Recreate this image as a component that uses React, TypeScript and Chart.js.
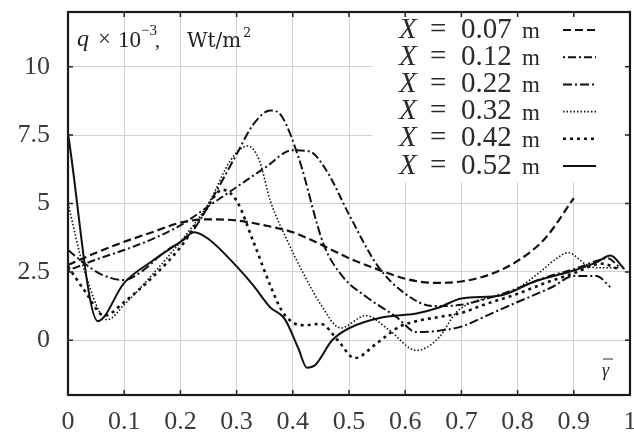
import React, { useEffect, useRef } from 'react';
import { Chart, registerables } from 'chart.js';
Chart.register(...registerables);

// ---- data ----
const seriesNames = ['0.07', '0.12', '0.22', '0.32', '0.42', '0.52'];

const s007: number[][] = [
  [0, 2.75], [0.05, 3.2], [0.1, 3.6], [0.15, 3.95], [0.2, 4.3], [0.25, 4.42], [0.3, 4.38], [0.35, 4.2],
  [0.4, 3.95], [0.45, 3.5], [0.5, 3.0], [0.55, 2.6], [0.6, 2.25], [0.65, 2.1], [0.7, 2.15], [0.75, 2.4],
  [0.8, 2.9], [0.85, 3.75], [0.9, 5.2],
];
const s012: number[][] = [
  [0, 2.55], [0.05, 2.95], [0.1, 3.3], [0.15, 3.7], [0.2, 4.2], [0.25, 4.9], [0.3, 5.6], [0.35, 6.3],
  [0.4, 6.95], [0.43, 6.9], [0.46, 6.2], [0.5, 4.6], [0.55, 2.75], [0.6, 1.7], [0.65, 1.25], [0.7, 1.3],
  [0.75, 1.55], [0.8, 1.9], [0.85, 2.3], [0.9, 2.6], [0.94, 2.9], [0.96, 3.0], [0.98, 2.7],
];
const s022: number[][] = [
  [0, 3.3], [0.03, 2.8], [0.06, 2.4], [0.1, 2.2], [0.13, 2.5], [0.17, 3.2], [0.22, 3.95], [0.26, 5.3],
  [0.3, 6.8], [0.33, 7.9], [0.36, 8.4], [0.38, 8.2], [0.41, 6.7], [0.455, 3.5], [0.49, 2.3], [0.53, 1.6],
  [0.585, 0.84], [0.62, 0.3], [0.66, 0.35], [0.7, 0.5], [0.75, 0.95], [0.8, 1.4], [0.86, 1.93], [0.9, 2.35],
  [0.94, 2.35], [0.965, 1.95],
];
const s032: number[][] = [
  [0, 5.0], [0.03, 2.5], [0.07, 0.75], [0.1, 1.3], [0.15, 2.4], [0.2, 3.6], [0.25, 5.0], [0.29, 6.6],
  [0.32, 7.1], [0.34, 6.6], [0.36, 5.1], [0.39, 3.65], [0.42, 2.4], [0.45, 1.3], [0.485, 0.45], [0.53, 0.9],
  [0.57, 0.4], [0.62, -0.37], [0.66, 0.1], [0.69, 1.0], [0.72, 1.4], [0.76, 1.6], [0.8, 1.9], [0.84, 2.5],
  [0.87, 3.0], [0.89, 3.2], [0.92, 2.8], [0.94, 2.65], [0.98, 2.65],
];
const s042: number[][] = [
  [0, 2.7], [0.03, 1.8], [0.065, 0.9], [0.1, 1.4], [0.15, 2.3], [0.2, 3.4], [0.24, 4.6], [0.275, 5.5],
  [0.3, 5.1], [0.33, 3.6], [0.36, 2.0], [0.38, 1.1], [0.4, 0.65], [0.42, 0.55], [0.45, 0.6], [0.48, 0.0],
  [0.51, -0.65], [0.55, -0.1], [0.59, 0.5], [0.62, 0.7], [0.66, 0.85], [0.7, 1.0], [0.74, 1.3], [0.8, 1.7],
  [0.85, 2.1], [0.9, 2.45], [0.95, 2.8], [0.98, 2.6],
];
const s052: number[][] = [
  [0, 7.55], [0.053, 0.7], [0.1, 2.1], [0.15, 2.9], [0.2, 3.6], [0.225, 3.95], [0.25, 3.7], [0.3, 2.7],
  [0.33, 2.0], [0.36, 1.2], [0.385, 0.8], [0.41, -0.3], [0.425, -1.0], [0.44, -0.9], [0.47, 0.0], [0.5, 0.44],
  [0.56, 0.84], [0.62, 0.98], [0.66, 1.2], [0.7, 1.53], [0.77, 1.64], [0.83, 2.15], [0.9, 2.55], [0.94, 2.85],
  [0.965, 3.1], [0.99, 2.6],
];
const seriesData = [s007, s012, s022, s032, s042, s052];

const xTickValues = [0, 0.1, 0.2, 0.3, 0.4, 0.5, 0.6, 0.7, 0.8, 0.9, 1];
const xTickLabels = ['0', '0.1', '0.2', '0.3', '0.4', '0.5', '0.6', '0.7', '0.8', '0.9', '1'];
const yTickValues = [0, 2.5, 5, 7.5, 10];
const yTickLabels = ['0', '2.5', '5', '7.5', '10'];

// ---- styles ----
const dashes: number[][] = [[8, 4], [2, 3, 8, 3], [9, 3, 2, 3], [1.5, 2], [3, 4], []];
const widths = [2.2, 2, 2, 1.6, 2.6, 2];
const SERIF = '"Liberation Serif", "DejaVu Serif", serif';
const DSERIF = '"DejaVu Serif", serif';

const decor = {
  id: 'decor',
  beforeDatasetsDraw(chart: any) {
    const ctx = chart.ctx;
    ctx.save();
    ctx.fillStyle = '#fff';
    ctx.fillRect(372, 14, 256, 168);
    ctx.restore();
  },
  afterDatasetsDraw(chart: any) {
    const ctx = chart.ctx;
    const a = chart.chartArea;
    const xs = chart.scales.x;
    const ys = chart.scales.y;
    ctx.save();
    // inward tick marks
    ctx.strokeStyle = '#222';
    ctx.lineWidth = 1.5;
    ctx.setLineDash([]);
    ctx.beginPath();
    xTickValues.forEach((v) => {
      const px = xs.getPixelForValue(v);
      ctx.moveTo(px, a.top); ctx.lineTo(px, a.top + 5);
      ctx.moveTo(px, a.bottom); ctx.lineTo(px, a.bottom - 5);
    });
    yTickValues.forEach((v) => {
      const py = ys.getPixelForValue(v);
      ctx.moveTo(a.left, py); ctx.lineTo(a.left + 5, py);
      ctx.moveTo(a.right, py); ctx.lineTo(a.right - 5, py);
    });
    ctx.stroke();
    // frame
    ctx.strokeStyle = '#1a1a1a';
    ctx.lineWidth = 2.2;
    ctx.strokeRect(a.left, a.top, a.right - a.left, a.bottom - a.top);

    // legend
    ctx.fillStyle = '#2a2a2a';
    ctx.textBaseline = 'middle';
    ctx.textAlign = 'left';
    seriesNames.forEach((n, i) => {
      const y = 30 + i * 27.2;
      ctx.font = 'italic 29px ' + SERIF;
      ctx.fillText('X', 399, y);
      ctx.font = '29px ' + SERIF;
      ctx.fillText('=', 430, y);
      ctx.fillText(n, 461, y);
      ctx.font = '23px ' + SERIF;
      ctx.fillText('m', 522, y + 2);
      const ds = chart.data.datasets[i];
      ctx.strokeStyle = '#111';
      ctx.lineWidth = ds.borderWidth;
      ctx.setLineDash(ds.borderDash || []);
      ctx.beginPath();
      ctx.moveTo(563, y);
      ctx.lineTo(596, y);
      ctx.stroke();
    });
    ctx.setLineDash([]);

    // axis label q
    ctx.textBaseline = 'alphabetic';
    ctx.fillStyle = '#222';
    ctx.font = 'italic 24px ' + SERIF;
    ctx.fillText('q', 77, 46);
    ctx.font = '23px ' + SERIF;
    ctx.fillText('×', 98, 46);
    ctx.fillText('10', 118, 47);
    ctx.font = '15px ' + SERIF;
    ctx.fillText('−3', 141, 35);
    ctx.font = '20px ' + SERIF;
    ctx.fillText(',', 155, 47);
    ctx.font = '20px ' + DSERIF;
    ctx.fillText('Wt/m', 187, 47);
    ctx.font = '13px ' + DSERIF;
    ctx.fillText('2', 243, 37);

    // gamma-bar label
    ctx.font = 'italic 18px ' + SERIF;
    ctx.fillText('γ', 602, 376);
    ctx.strokeStyle = '#2a2a2a';
    ctx.lineWidth = 1;
    ctx.beginPath();
    ctx.moveTo(603, 359);
    ctx.lineTo(613, 359);
    ctx.stroke();
    ctx.restore();
  },
};

export default function App() {
  const ref = useRef<HTMLCanvasElement>(null);
  useEffect(() => {
    if (!ref.current) return;
    const chart = new Chart(ref.current, {
      type: 'line',
      data: {
        datasets: seriesData.map((d, i) => ({
          label: 'X = ' + seriesNames[i] + ' m',
          data: d.map(([x, y]) => ({ x, y })),
          borderColor: '#111',
          borderWidth: widths[i],
          borderDash: dashes[i],
          pointRadius: 0,
          fill: false,
          cubicInterpolationMode: 'monotone' as const,
        })),
      },
      options: {
        animation: false,
        responsive: false,
        layout: { padding: { top: 12, right: 4, left: 0, bottom: 0 } },
        plugins: { legend: { display: false }, tooltip: { enabled: false } },
        scales: {
          x: {
            type: 'linear',
            min: 0,
            max: 1,
            afterBuildTicks: (s: any) => { s.ticks = xTickValues.map((v) => ({ value: v })); },
            afterFit: (s: any) => { s.height = 39; s.paddingLeft = 0; s.paddingRight = 0; s.paddingTop = 0; s.paddingBottom = 0; },
            ticks: {
              autoSkip: false,
              maxRotation: 0,
              padding: 12,
              color: '#3a3a3a',
              font: { family: SERIF, size: 26 },
              callback: (_v: any, i: number) => xTickLabels[i],
            },
            grid: { color: '#d2d2d2', lineWidth: 1, drawTicks: false },
            border: { display: false },
          },
          y: {
            type: 'linear',
            min: -2,
            max: 12,
            afterBuildTicks: (s: any) => { s.ticks = yTickValues.map((v) => ({ value: v })); },
            afterFit: (s: any) => { s.width = 68; s.paddingLeft = 0; s.paddingRight = 0; s.paddingTop = 0; s.paddingBottom = 0; },
            ticks: {
              padding: 18,
              color: '#3a3a3a',
              font: { family: SERIF, size: 26 },
              callback: (_v: any, i: number) => yTickLabels[i],
            },
            grid: { color: '#d2d2d2', lineWidth: 1, drawTicks: false },
            border: { display: false },
          },
        },
      },
      plugins: [decor],
    } as any);
    return () => chart.destroy();
  }, []);
  return (
    <div style={{ position: 'fixed', left: 0, top: 0, width: 634, height: 434, background: '#fff' }}>
      <canvas ref={ref} width={634} height={434} style={{ display: 'block' }} />
    </div>
  );
}
